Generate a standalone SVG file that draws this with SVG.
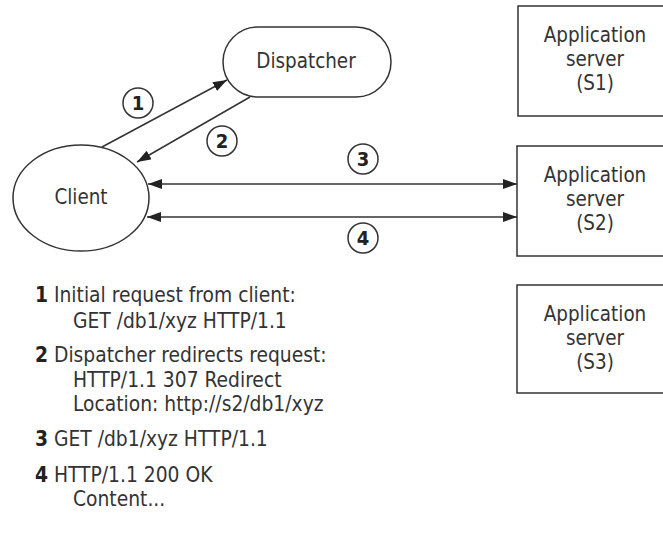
<svg xmlns="http://www.w3.org/2000/svg" width="663" height="533" viewBox="0 0 663 533">
<style>
.shape{fill:#fff;stroke:#333;stroke-width:1.5}
.lbl{font-family:"DejaVu Sans Condensed","DejaVu Sans",sans-serif;font-stretch:condensed;font-size:20.4px;fill:#333;text-anchor:middle}
.txt{font-family:"DejaVu Sans Condensed","DejaVu Sans",sans-serif;font-stretch:condensed;font-size:20.8px;fill:#333}
.num{font-weight:bold;fill:#222}
.conn{stroke:#333;stroke-width:1.5;fill:none}
.badge{fill:#fff;stroke:#333;stroke-width:1.5}
.bnum{font-family:"DejaVu Sans Condensed","DejaVu Sans",sans-serif;font-stretch:condensed;font-size:20px;font-weight:bold;fill:#222;text-anchor:middle}
</style>
<defs>
<marker id="ah" markerUnits="userSpaceOnUse" markerWidth="15" markerHeight="11" refX="14" refY="5" orient="auto-start-reverse">
<path d="M0,0 L14,5 L0,10 z" fill="#222"/>
</marker>
</defs>
<rect width="663" height="533" fill="#fff"/>
<g id="dispatcher">
<rect class="shape" x="223" y="27" width="168" height="70" rx="35" ry="35"/>
<text class="lbl" x="306" y="68">Dispatcher</text>
</g>
<g id="client">
<ellipse class="shape" cx="81" cy="198" rx="68" ry="53"/>
<text class="lbl" x="81" y="204">Client</text>
</g>
<g id="s1">
<rect class="shape" x="518" y="6" width="156" height="110"/>
<text class="lbl" x="595" y="42">Application</text>
<text class="lbl" x="595" y="66">server</text>
<text class="lbl" x="595" y="90">(S1)</text>
</g>
<g id="s2">
<rect class="shape" x="517" y="146" width="156" height="110"/>
<text class="lbl" x="595" y="182">Application</text>
<text class="lbl" x="595" y="206">server</text>
<text class="lbl" x="595" y="230">(S2)</text>
</g>
<g id="s3">
<rect class="shape" x="517" y="285" width="156" height="108"/>
<text class="lbl" x="595" y="321">Application</text>
<text class="lbl" x="595" y="345">server</text>
<text class="lbl" x="595" y="369">(S3)</text>
</g>
<g id="connectors">
<line class="conn" x1="102" y1="147" x2="227" y2="80" marker-end="url(#ah)"/>
<line class="conn" x1="250" y1="97" x2="137" y2="162" marker-end="url(#ah)"/>
<line class="conn" x1="148" y1="184" x2="517" y2="184" marker-start="url(#ah)" marker-end="url(#ah)"/>
<line class="conn" x1="147" y1="217" x2="517" y2="217" marker-start="url(#ah)" marker-end="url(#ah)"/>
</g>
<g id="badges">
<circle class="badge" cx="138" cy="103" r="15"/>
<text class="bnum" x="138" y="110">1</text>
<circle class="badge" cx="222" cy="141" r="15"/>
<text class="bnum" x="222" y="148">2</text>
<circle class="badge" cx="363" cy="159" r="15"/>
<text class="bnum" x="363" y="166">3</text>
<circle class="badge" cx="363" cy="238" r="15"/>
<text class="bnum" x="363" y="245">4</text>
</g>
<g id="legend">
<text class="txt" x="35" y="302"><tspan class="num">1</tspan> Initial request from client:</text>
<text class="txt" x="73" y="328">GET /db1/xyz HTTP/1.1</text>
<text class="txt" x="35" y="362"><tspan class="num">2</tspan> Dispatcher redirects request:</text>
<text class="txt" x="73" y="387">HTTP/1.1 307 Redirect</text>
<text class="txt" x="73" y="411">Location: http://s2/db1/xyz</text>
<text class="txt" x="35" y="446"><tspan class="num">3</tspan> GET /db1/xyz HTTP/1.1</text>
<text class="txt" x="35" y="482"><tspan class="num">4</tspan> HTTP/1.1 200 OK</text>
<text class="txt" x="73" y="506">Content...</text>
</g>
</svg>
